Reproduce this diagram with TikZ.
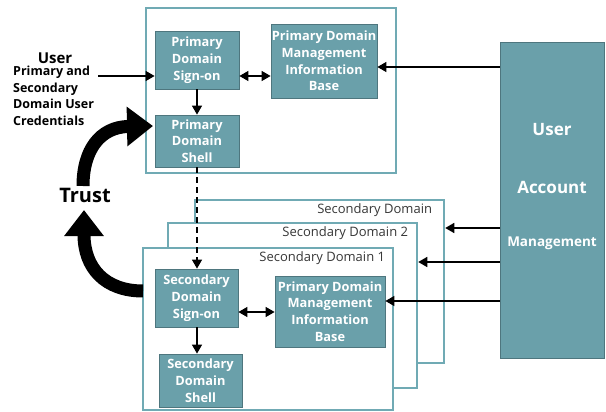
\documentclass[tikz,border=0pt]{standalone}
\usepackage{fontspec}
\setmainfont{Open Sans}
\usetikzlibrary{arrows.meta}
\usetikzlibrary{positioning}

\definecolor{tealfill}{RGB}{106,160,170}
\definecolor{tealedge}{RGB}{78,118,126}
\definecolor{domainedge}{RGB}{112,170,180}
\definecolor{labelgray}{RGB}{55,55,55}

\tikzset{
  dombox/.style={draw=domainedge, line width=2.5pt, fill=white, inner sep=0pt},
  domlabel/.style={text=labelgray, font=\fontsize{13}{15}\selectfont, inner sep=0pt},
  infobox/.style={draw=tealedge, line width=0.8pt, fill=tealfill, text=white,
    font=\bfseries\fontsize{12.8}{16.8}\selectfont, align=center, inner sep=0pt},
  flow/.style={-{Triangle[length=9pt,width=10pt]}, line width=1.5pt},
  flowboth/.style={{Triangle[length=9pt,width=10pt]}-{Triangle[length=9pt,width=10pt]}, line width=1.5pt},
  trust/.style={-{Triangle[length=26pt,width=38pt]}, line width=13pt},
}

\begin{document}
\begin{tikzpicture}[x=1pt, y=-1pt]
  \useasboundingbox (0,0) rectangle (606,412);

  % primary domain
  \node (c1) [dombox, minimum width=250pt, minimum height=165pt] at (271,90.5) {};
  \node (iPSign) [infobox, minimum width=84pt, minimum height=58pt] at (197,60) {Primary\\Domain\\Sign-on};
  \node (iPShell) [infobox, minimum width=84pt, minimum height=52pt] at (197,141) {Primary\\Domain\\Shell};
  \node (iPMIB) [infobox, minimum width=106pt, minimum height=74pt] at (324,61) {Primary Domain\\Management\\Information\\Base};

  % user credentials
  \node (iUser) [font=\bfseries\fontsize{15}{17}\selectfont, inner sep=0pt] at (55,58) {User};
  \node (iCred) [font=\bfseries\fontsize{12.5}{16.5}\selectfont, align=left, anchor=north west, inner sep=0pt] at (13,66) {Primary and\\Secondary\\Domain User\\Credentials};
  \coordinate (credIn) at (98,76);

  % secondary domains
  \node (c3) [dombox, minimum width=249pt, minimum height=163pt] at (319.5,281.5) {};
  \node (l3) [domlabel, below left=5pt and 13pt of c3.north east] {Secondary Domain};
  \node (c4) [dombox, minimum width=249pt, minimum height=165pt] at (292.5,305.5) {};
  \node (l4) [domlabel, below left=5pt and 10pt of c4.north east] {Secondary Domain 2};
  \node (c5) [dombox, minimum width=250pt, minimum height=162pt] at (268,329) {};
  \node (l5) [domlabel, below left=5pt and 9pt of c5.north east] {Secondary Domain 1};

  \node (iSSign) [infobox, minimum width=83pt, minimum height=58pt] at (196.5,298) {Secondary\\Domain\\Sign-on};
  \node (iSShell) [infobox, minimum width=83pt, minimum height=53pt] at (200.5,380.5) {Secondary\\Domain\\Shell};
  \node (iSMIB) [infobox, minimum width=110pt, minimum height=71pt] at (330,311.5) {Primary Domain\\Management\\Information\\Base};

  % user account management
  \node (iUAM) [infobox, minimum width=104pt, minimum height=316pt, font=\bfseries\fontsize{17}{20}\selectfont, text depth=31pt] at (552,200)
    {User\\[38pt]Account\\[33pt]{\fontsize{13.5}{16}\selectfont Management}};

  % trust
  \node (iTrust) [font=\bfseries\fontsize{20}{24}\selectfont, inner sep=0pt] at (85,195) {Trust};
  \draw [trust] (83,186) .. controls (83,150) and (100,127) .. (153,126);
  \draw [trust] (143,291) .. controls (105,291) and (84,268) .. (84,210);

  \draw [flow] (credIn) -- (iPSign.west |- credIn);
  \draw [flowboth] (iPSign.east |- 0,76) -- (iPMIB.west |- 0,76);
  \draw [flow] (iPSign) -- (iPShell);
  \draw [flow, dash pattern=on 6pt off 4pt] (iPShell.south) -- (iPShell.south |- iSSign.north);
  \draw [flowboth] (iSSign.east |- 0,312) -- (iSMIB.west |- 0,312);
  \draw [flow] (iSSign.south -| 197,0) -- (iSShell.north -| 197,0);

  \draw [flow] (iUAM.west |- 0,67) -- (iPMIB.east |- 0,67);
  \draw [flow] (iUAM.west |- 0,228) -- (c3.east |- 0,228);
  \draw [flow] (iUAM.west |- 0,262) -- (c4.east |- 0,262);
  \draw [flow] (iUAM.west |- 0,301) -- (iSMIB.east |- 0,301);
\end{tikzpicture}
\end{document}
